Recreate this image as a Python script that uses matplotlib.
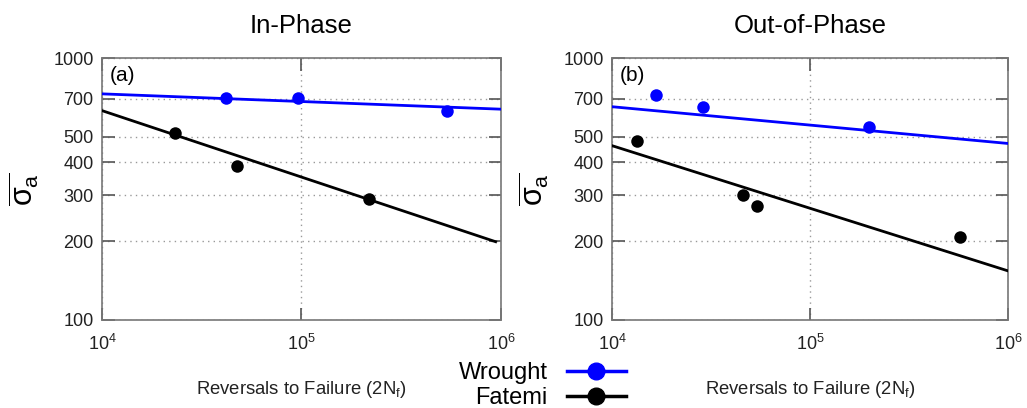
import matplotlib
matplotlib.use("Agg")
import matplotlib.pyplot as plt
from matplotlib.ticker import FixedLocator, NullLocator, FixedFormatter
from matplotlib.lines import Line2D

plt.rcParams['font.family'] = ['Liberation Sans', 'DejaVu Sans']
plt.rcParams['mathtext.fontset'] = 'custom'
plt.rcParams['mathtext.rm'] = 'Liberation Sans'
plt.rcParams['mathtext.it'] = 'Liberation Sans'

# Panel (a) In-Phase
a_wrought_N = [4.2e4, 9.6e4, 5.35e5]
a_wrought_S = [702, 705, 628]
a_wrought_fitN = [1e4, 1e6]
a_wrought_fitS = [730, 638]
a_fatemi_N = [2.32e4, 4.77e4, 2.19e5]
a_fatemi_S = [516, 388, 290]
a_fatemi_fitN = [1e4, 9.4e5]
a_fatemi_fitS = [630, 199]

# Panel (b) Out-of-Phase
b_wrought_N = [1.66e4, 2.87e4, 1.99e5]
b_wrought_S = [723, 650, 547]
b_wrought_fitN = [1e4, 1e6]
b_wrought_fitS = [652, 472]
b_fatemi_N = [1.33e4, 4.6e4, 5.38e4, 5.73e5]
b_fatemi_S = [483, 301, 272, 208]
b_fatemi_fitN = [1e4, 1e6]
b_fatemi_fitS = [463, 154]

yticks = [100, 200, 300, 400, 500, 700, 1000]
xticks = [1e4, 1e5, 1e6]
xticklabels = ['$10^4$', '$10^5$', '$10^6$']
titles = ['In-Phase', 'Out-of-Phase']
panel_labels = ['(a)', '(b)']

fig = plt.figure(figsize=(10.27, 4.08), dpi=100)
ax1 = fig.add_axes([0.0993, 0.2157, 0.3885, 0.642])
ax2 = fig.add_axes([0.5959, 0.2157, 0.3856, 0.642])

panels = [
    (ax1, a_wrought_N, a_wrought_S, a_wrought_fitN, a_wrought_fitS,
     a_fatemi_N, a_fatemi_S, a_fatemi_fitN, a_fatemi_fitS),
    (ax2, b_wrought_N, b_wrought_S, b_wrought_fitN, b_wrought_fitS,
     b_fatemi_N, b_fatemi_S, b_fatemi_fitN, b_fatemi_fitS),
]

for i, (ax, wN, wS, wfN, wfS, fN, fS, ffN, ffS) in enumerate(panels):
    ax.set_xscale('log')
    ax.set_yscale('log')
    ax.set_xlim(1e4, 1e6)
    ax.set_ylim(100, 1000)
    ax.plot(wfN, wfS, color='#0000ff', lw=2, zorder=3)
    ax.plot(ffN, ffS, color='black', lw=2, zorder=3)
    ax.plot(wN, wS, 'o', color='#0000ff', ms=9, mec='none', zorder=4)
    ax.plot(fN, fS, 'o', color='black', ms=9, mec='none', zorder=4)
    ax.yaxis.set_major_locator(FixedLocator(yticks))
    ax.yaxis.set_major_formatter(FixedFormatter([str(v) for v in yticks]))
    ax.yaxis.set_minor_locator(NullLocator())
    ax.xaxis.set_major_locator(FixedLocator(xticks))
    ax.xaxis.set_major_formatter(FixedFormatter(xticklabels))
    ax.xaxis.set_minor_locator(NullLocator())
    ax.tick_params(axis='both', direction='in', length=9, width=1.2, color='#555555',
                   labelsize=13, labelcolor='#222222', top=True, right=True)
    ax.tick_params(axis='x', pad=10)
    ax.tick_params(axis='y', pad=6)
    ax.grid(True, which='major', linestyle=(0, (1, 3)), color='#999999', lw=1.0)
    for s in ax.spines.values():
        s.set_color('#777777')
        s.set_linewidth(1.2)
    ax.set_title(titles[i], fontsize=18.5, pad=18)
    ax.set_xlabel('Reversals to Failure (2N$_\\mathregular{f}$)', fontsize=13.3,
                  labelpad=18, color='#222222')
    ax.set_ylabel(r'$\overline{\sigma_\mathregular{a}}$', fontsize=22, labelpad=9)
    ax.text(0.02, 0.97, panel_labels[i], transform=ax.transAxes, fontsize=15,
            va='top', ha='left')

# Legend at bottom centre
handles = [Line2D([], [], color='#0000ff', lw=2.5, marker='o', ms=12),
           Line2D([], [], color='black', lw=2.5, marker='o', ms=12)]
fig.legend(handles, ['Wrought', 'Fatemi'], loc='center', bbox_to_anchor=(0.528, 0.055),
           frameon=False, fontsize=17, markerfirst=False, handlelength=2.5,
           labelspacing=0.15, handletextpad=0.8, borderpad=0.1)

fig.savefig('out.png', dpi=100)
